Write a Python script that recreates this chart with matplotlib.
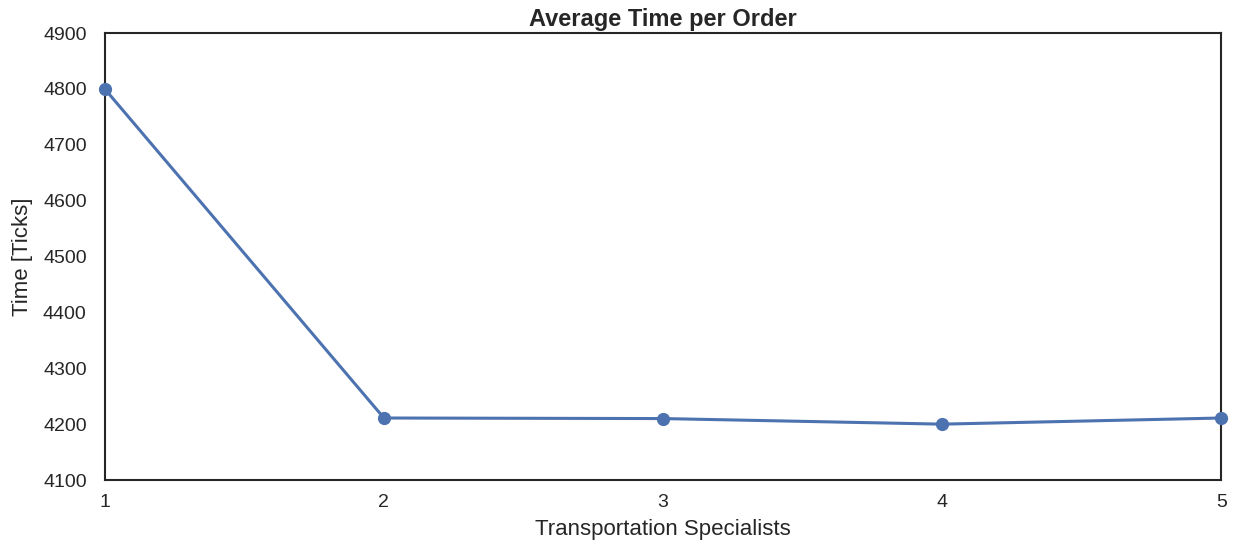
import matplotlib
matplotlib.use("Agg")
import matplotlib.pyplot as plt
import seaborn as sns

specialists = [1, 2, 3, 4, 5]
avg_time = [4800, 4211, 4210, 4200, 4211]
yticks = [4100, 4200, 4300, 4400, 4500, 4600, 4700, 4800, 4900]

sns.set_style("white")
plt.rcParams['font.family'] = ['Liberation Sans', 'DejaVu Sans']
plt.rcParams['axes.edgecolor'] = '.15'
plt.rcParams['text.color'] = '.15'
plt.rcParams['xtick.color'] = '.15'
plt.rcParams['ytick.color'] = '.15'
plt.rcParams['axes.labelcolor'] = '.15'

fig, ax = plt.subplots(figsize=(12.33, 5.43), dpi=100)
fig.subplots_adjust(left=0.085, right=0.9905, top=0.939, bottom=0.116)
ax.plot(specialists, avg_time, color='#4C72B0', marker='o', markersize=8.5,
        linewidth=2.2, clip_on=False, zorder=3)
ax.set_xlim(1, 5)
ax.set_ylim(4100, 4900)
ax.set_xticks(specialists)
ax.set_yticks(yticks)
ax.tick_params(labelsize=14, length=0)
ax.tick_params(axis='y', pad=13)
ax.tick_params(axis='x', pad=10)
for s in ax.spines.values():
    s.set_linewidth(1.5)
ax.set_title("Average Time per Order", fontsize=17, fontweight='bold', pad=5)
ax.set_xlabel("Transportation Specialists", fontsize=16, labelpad=6)
ax.set_ylabel("Time [Ticks]", fontsize=16, labelpad=7)
fig.savefig("out.png", dpi=100)
